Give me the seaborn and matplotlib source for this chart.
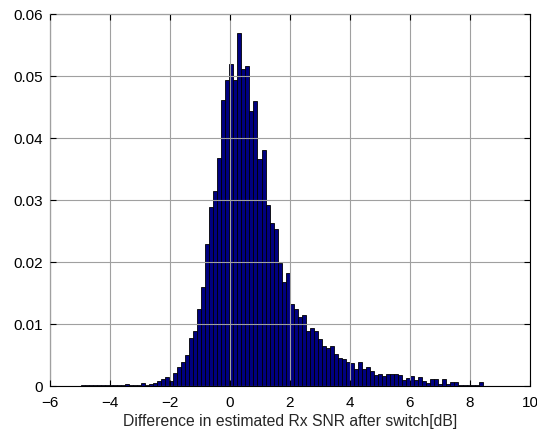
import numpy as np
import pandas as pd
import matplotlib
matplotlib.use("Agg")
import matplotlib.pyplot as plt
import seaborn as sns

# histogram of SNR difference, 100 bins between data min and max
bin_start = -4.98
bin_stop = 8.42
heights = [
    0.0002, 0.0001, 0.0001, 0.0001, 0.0001, 0.0001, 0.0001, 0.0001, 0.0001, 0.0001,
    0.0002, 0.0003, 0.0001, 0.0001, 0.0001, 0.0005, 0.0001, 0.0003, 0.0005, 0.0008,
    0.0011, 0.0014, 0.0008, 0.0021, 0.0031, 0.0038, 0.0050, 0.0077, 0.0089, 0.0124,
    0.0160, 0.0229, 0.0289, 0.0315, 0.0367, 0.0462, 0.0494, 0.0520, 0.0494, 0.0569,
    0.0511, 0.0516, 0.0444, 0.0459, 0.0366, 0.0380, 0.0292, 0.0263, 0.0254, 0.0199,
    0.0167, 0.0182, 0.0132, 0.0125, 0.0111, 0.0115, 0.0088, 0.0094, 0.0088, 0.0076,
    0.0065, 0.0062, 0.0065, 0.0051, 0.0045, 0.0043, 0.0039, 0.0037, 0.0027, 0.0038,
    0.0027, 0.0030, 0.0025, 0.0017, 0.0019, 0.0016, 0.0020, 0.0020, 0.0019, 0.0017,
    0.0010, 0.0013, 0.0016, 0.0010, 0.0015, 0.0008, 0.0005, 0.0011, 0.0011, 0.0004,
    0.0011, 0.0004, 0.0006, 0.0006, 0.0002, 0.0001, 0.0002, 0.0001, 0.0002, 0.0006,
]
x_ticks = [-6, -4, -2, 0, 2, 4, 6, 8, 10]
y_ticks = [0, 0.01, 0.02, 0.03, 0.04, 0.05, 0.06]
x_label = "Difference in estimated Rx SNR after switch[dB]"

n_bins = len(heights)
width = (bin_stop - bin_start) / n_bins
centers = bin_start + width * (np.arange(n_bins) + 0.5)
df = pd.DataFrame({"snr_diff": centers, "freq": heights})

sns.set_theme(style="white")
plt.rcParams["font.family"] = ["Liberation Sans", "DejaVu Sans"]

fig = plt.figure(figsize=(5.37, 4.30), dpi=100)
ax = fig.add_axes([50 / 537, 1 - 386 / 430, 480 / 537, 372 / 430])
sns.histplot(data=df, x="snr_diff", weights="freq", binwidth=width,
             binrange=(bin_start, bin_stop), stat="count",
             color="#000080", edgecolor="black", linewidth=0.6, alpha=1.0, ax=ax)

ax.set_xlim(-6, 10)
ax.set_ylim(0, 0.06)
ax.set_xticks(x_ticks)
ax.set_yticks(y_ticks)
ax.set_yticklabels(["0" if v == 0 else f"{v:g}" for v in y_ticks])
ax.set_xlabel(x_label, fontsize=11.3, labelpad=3)
ax.set_ylabel("")
ax.grid(True, color="#a0a0a0", linewidth=0.8)
ax.set_axisbelow(False)
for sp in ax.spines.values():
    sp.set_color("black")
    sp.set_linewidth(0.8)
ax.tick_params(direction="in", length=4, width=0.8, colors="black", labelsize=11,
               top=True, right=True, bottom=True, left=True)
ax.tick_params(axis="x", pad=7)
ax.tick_params(axis="y", pad=5)

fig.savefig("out.png", dpi=100)
